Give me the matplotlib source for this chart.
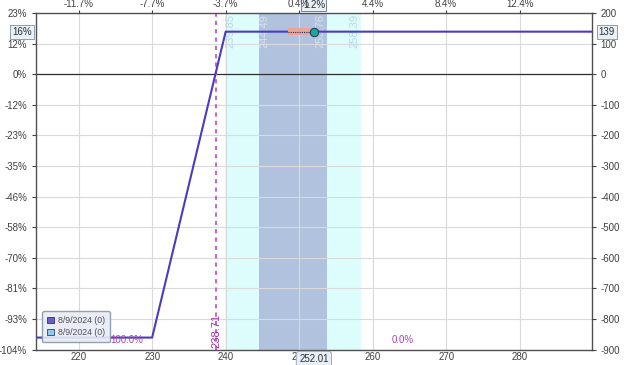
import matplotlib
matplotlib.use("Agg")
import matplotlib.pyplot as plt
from matplotlib.patches import Rectangle, Patch
import matplotlib.transforms as mtransforms

plt.rcParams['font.family'] = ['Liberation Sans', 'DejaVu Sans']

# ---- data ----
prices = [214.2, 230.0, 240.0, 289.8]
pnl = [-861, -861, 139, 139]
x_ticks = [220, 230, 240, 250, 260, 270, 280]
top_tick_labels = ["-11.7%", "-7.7%", "-3.7%", "0.4%", "4.4%", "8.4%", "12.4%"]
y_ticks = [200, 100, 0, -100, -200, -300, -400, -500, -600, -700, -800, -900]
left_tick_labels = ["23%", "12%", "0%", "-12%", "-23%", "-35%", "-46%", "-58%",
                    "-70%", "-81%", "-93%", "-104%"]
right_tick_labels = ["200", "100", "0", "-100", "-200", "-300", "-400", "-500",
                     "-600", "-700", "-800", "-900"]
outer_band = [239.85, 258.39]
inner_band = [244.49, 253.76]
breakeven = 238.71
current_price = 252.01
current_pnl = 139
current_pct = "1.2%"
max_profit_pct = "16%"
legend_labels = ["8/9/2024 (0)", "8/9/2024 (0)"]
prob_labels = [(226.5, "100.0%"), (264.1, "0.0%")]

xlim = (214.2, 289.8)
ylim = (-900, 200)

fig = plt.figure(figsize=(6.24, 3.65), dpi=100)
ax = fig.add_axes([36/624, 1 - 349.5/365, (591.7 - 36)/624, (349.5 - 13)/365])
ax.set_xlim(*xlim)
ax.set_ylim(*ylim)

tick_color = "#404040"
fs = 7.0

# bands
ax.axvspan(outer_band[0], outer_band[1], color="#DDFCFC", zorder=0.1, lw=0)
ax.axvspan(inner_band[0], inner_band[1], color="#B0C2DD", zorder=0.2, lw=0)

# grid (above bands)
ax.set_xticks(x_ticks)
ax.set_yticks(y_ticks)
ax.set_axisbelow(True)
ax.grid(True, color="#DADADA", lw=0.8)
ax.axhline(0, color="#303030", lw=0.9, zorder=1)

# band labels
trans = mtransforms.blended_transform_factory(ax.transData, ax.transAxes)
for xv, off in [(outer_band[0], 1), (inner_band[0], 1), (inner_band[1], -1), (outer_band[1], -1)]:
    inner = inner_band[0] <= xv <= inner_band[1]
    ax.annotate(f"{xv:.2f}", xy=(xv, 1.0), xycoords=trans,
                xytext=(off * 4.5, -1), textcoords="offset points",
                rotation=90, ha="center", va="top", fontsize=8,
                color="#D6E2F0" if inner else "#BFD6E6", zorder=2)

# breakeven dashed line
ax.axvline(breakeven, color="#C468CC", lw=1.5, ls=(0, (2, 2)), zorder=2)
ax.annotate(f"{breakeven:.2f}", xy=(breakeven, 0.0), xycoords=trans,
            xytext=(0, 1), textcoords="offset points", rotation=90,
            ha="center", va="bottom", fontsize=8, color="#A030A8", zorder=3)

# P&L line
ax.plot(prices, pnl, color="#4A3CC0", lw=1.5, zorder=3)

# current position marker
ax.add_patch(Rectangle((248.5, current_pnl - 11), current_price - 248.5, 22,
                       facecolor="#E8A598", edgecolor="none", zorder=3.5))
ax.plot([248.5, current_price], [current_pnl, current_pnl], color="#303060",
        lw=0.8, ls=(0, (1, 1)), zorder=3.6)
ax.plot([current_price], [current_pnl], marker="o", ms=6, mfc="#1AA89A",
        mec="#204060", mew=0.8, zorder=4)

# probability labels
for xv, lab in prob_labels:
    ax.text(xv, -869, lab, color="#B040B8", fontsize=fs, ha="center", va="center", zorder=3)

# spines
for s in ax.spines.values():
    s.set_color("#505050")
    s.set_linewidth(1.0)

ax.tick_params(axis="both", labelsize=fs, colors=tick_color, length=3, width=0.8)
ax.set_yticklabels(left_tick_labels)
ax.set_xticklabels([str(v) for v in x_ticks])
ax.tick_params(axis="x", pad=2, length=0)

# right axis
axr = ax.twinx()
axr.set_ylim(*ylim)
axr.set_yticks(y_ticks)
axr.set_yticklabels(right_tick_labels)
axr.tick_params(axis="y", labelsize=fs, colors=tick_color, length=3, width=0.8)
for s in axr.spines.values():
    s.set_visible(False)

# top axis
axt = ax.twiny()
axt.set_xlim(*xlim)
axt.set_xticks(x_ticks)
axt.set_xticklabels(top_tick_labels)
axt.tick_params(axis="x", labelsize=fs, colors=tick_color, length=2, width=0.8, pad=1)
for s in axt.spines.values():
    s.set_visible(False)

# boxed labels
ytrans = mtransforms.blended_transform_factory(ax.transAxes, ax.transData)
ax.annotate(max_profit_pct, xy=(0, current_pnl), xycoords=ytrans, xytext=(-3, 0),
            textcoords="offset points", ha="right", va="center",
            fontsize=fs, color="#303030",
            bbox=dict(boxstyle="square,pad=0.2", fc="#E8F0F8", ec="#8090A0", lw=0.6),
            annotation_clip=False, zorder=10)
ax.annotate(str(current_pnl), xy=(1, current_pnl), xycoords=ytrans, xytext=(5, 0),
            textcoords="offset points", ha="left", va="center",
            fontsize=fs, color="#303030",
            bbox=dict(boxstyle="square,pad=0.2", fc="#E8F0F8", ec="#8090A0", lw=0.6),
            annotation_clip=False, zorder=10)
ax.annotate(current_pct, xy=(current_price, 1), xycoords=trans, xytext=(0, 6),
            textcoords="offset points", ha="center", va="center",
            fontsize=fs, color="#303030",
            bbox=dict(boxstyle="square,pad=0.15", fc="#E8F0F8", ec="#607080", lw=0.6),
            annotation_clip=False, zorder=10)
ax.annotate(f"{current_price:.2f}", xy=(current_price, 0), xycoords=trans, xytext=(0, -7),
            textcoords="offset points", ha="center", va="center",
            fontsize=fs, color="#303030",
            bbox=dict(boxstyle="round,pad=0.3,rounding_size=0.3", fc="#E8EEF6", ec="#90A0B0", lw=0.6),
            annotation_clip=False, zorder=10)

# legend
handles = [Patch(facecolor="#6A60C8", edgecolor="#303070", lw=0.6),
           Patch(facecolor="#90C8F0", edgecolor="#304070", lw=0.6)]
leg = ax.legend(handles, legend_labels, loc="lower left", bbox_to_anchor=(0.003, 0.008),
                fontsize=6.3, frameon=True, fancybox=True, handlelength=0.8,
                handleheight=0.8, handletextpad=0.4, labelspacing=0.35, borderpad=0.6,
                labelcolor="#505060")
leg.get_frame().set_facecolor("#E8ECF2")
leg.get_frame().set_edgecolor("#8898A8")
leg.get_frame().set_alpha(0.9)
leg.set_zorder(9)

fig.savefig("out.png", dpi=100)
